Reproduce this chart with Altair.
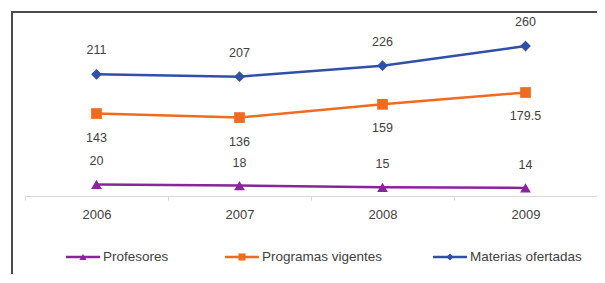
import altair as alt
import pandas as pd

years = ["2006", "2007", "2008", "2009"]
series_names = ["Profesores", "Programas vigentes", "Materias ofertadas"]
profesores = [20, 18, 15, 14]
programas = [143, 136, 159, 179.5]
materias = [211, 207, 226, 260]
colors = ["#8A239C", "#F26A1F", "#2F4FA8"]
marker_shapes = ["triangle-up", "square", "diamond"]

rows = []
for name, vals in zip(series_names, [profesores, programas, materias]):
    for y, v in zip(years, vals):
        rows.append({"year": y, "series": name, "value": v,
                     "label": ("%g" % v)})
df = pd.DataFrame(rows)
df_leg = pd.DataFrame({"series": series_names})

FONT = "Liberation Sans"
TXT = "#404040"

x = alt.X("year:N", sort=years,
          scale=alt.Scale(paddingInner=0, paddingOuter=0),
          axis=alt.Axis(title=None, labelAngle=0, tickBand="extent",
                        domainColor="#D9D9D9", tickColor="#D9D9D9",
                        tickSize=4, labelPadding=8, labelFont=FONT,
                        labelFontSize=13, labelColor=TXT, grid=False))
y = alt.Y("value:Q", scale=alt.Scale(domain=[0, 300], nice=False),
          axis=None)
color = alt.Color("series:N", scale=alt.Scale(domain=series_names, range=colors),
                  legend=None)
shape = alt.Shape("series:N", scale=alt.Scale(domain=series_names, range=marker_shapes),
                  legend=None)

base = alt.Chart(df)

lines = base.mark_line(strokeWidth=2.5).encode(x=x, y=y, color=color, detail="series:N")
points = base.mark_point(filled=True, size=115, opacity=1).encode(
    x=x, y=y, color=color, shape=shape)

offsets = {"Profesores": -23, "Programas vigentes": 24, "Materias ofertadas": -24}
main_layers = [lines, points]
for name in series_names:
    sub = base.transform_filter(alt.datum.series == name)
    main_layers.append(sub.mark_text(font=FONT, fontSize=12.5, color=TXT,
                                     dy=offsets[name], baseline="middle")
                       .encode(x=x, y=y, text="label:N"))
main = alt.layer(*main_layers)

# legend row (drawn as marks on its own linear scale over the entry index)
lbase = alt.Chart(df_leg).transform_calculate(
    idx="indexof(" + str(series_names) + ", datum.series)"
)
lx = alt.X("idx:Q", scale=alt.Scale(domain=[0, 1, 2], range=[58, 217, 425]),
           axis=None)
ly = alt.value(234)
leg_line = lbase.mark_point(shape="M-1,0H1", size=1156, strokeWidth=2.5,
                            filled=False, opacity=1).encode(x=lx, y=ly, color=color)
leg_mark = lbase.mark_point(filled=True, size=50, opacity=1).encode(
    x=lx, y=ly, color=color, shape=shape)
leg_text = lbase.mark_text(align="left", baseline="middle", dx=20, font=FONT,
                           fontSize=13.5, color=TXT).encode(x=lx, y=ly, text="series:N")
legend = alt.layer(leg_line, leg_mark, leg_text)

frame_left = alt.Chart(df_leg).mark_rule(color="#4A4A4A", strokeWidth=2).encode(
    x=alt.value(-13), y=alt.value(-11), y2=alt.value(260))
frame_top = alt.Chart(df_leg).mark_rule(color="#4A4A4A", strokeWidth=2).encode(
    x=alt.value(-14), x2=alt.value(600), y=alt.value(-11))

chart = alt.layer(main, legend, frame_left, frame_top).resolve_scale(
    x="independent", y="independent"
).properties(
    width=572, height=173,
    padding={"left": 17, "top": 15, "right": 0, "bottom": 78},
    autosize=alt.AutoSizeParams(type="none"),
).configure_view(stroke=None)

chart.save("out.html", embed_options={"renderer": "svg", "actions": False})
